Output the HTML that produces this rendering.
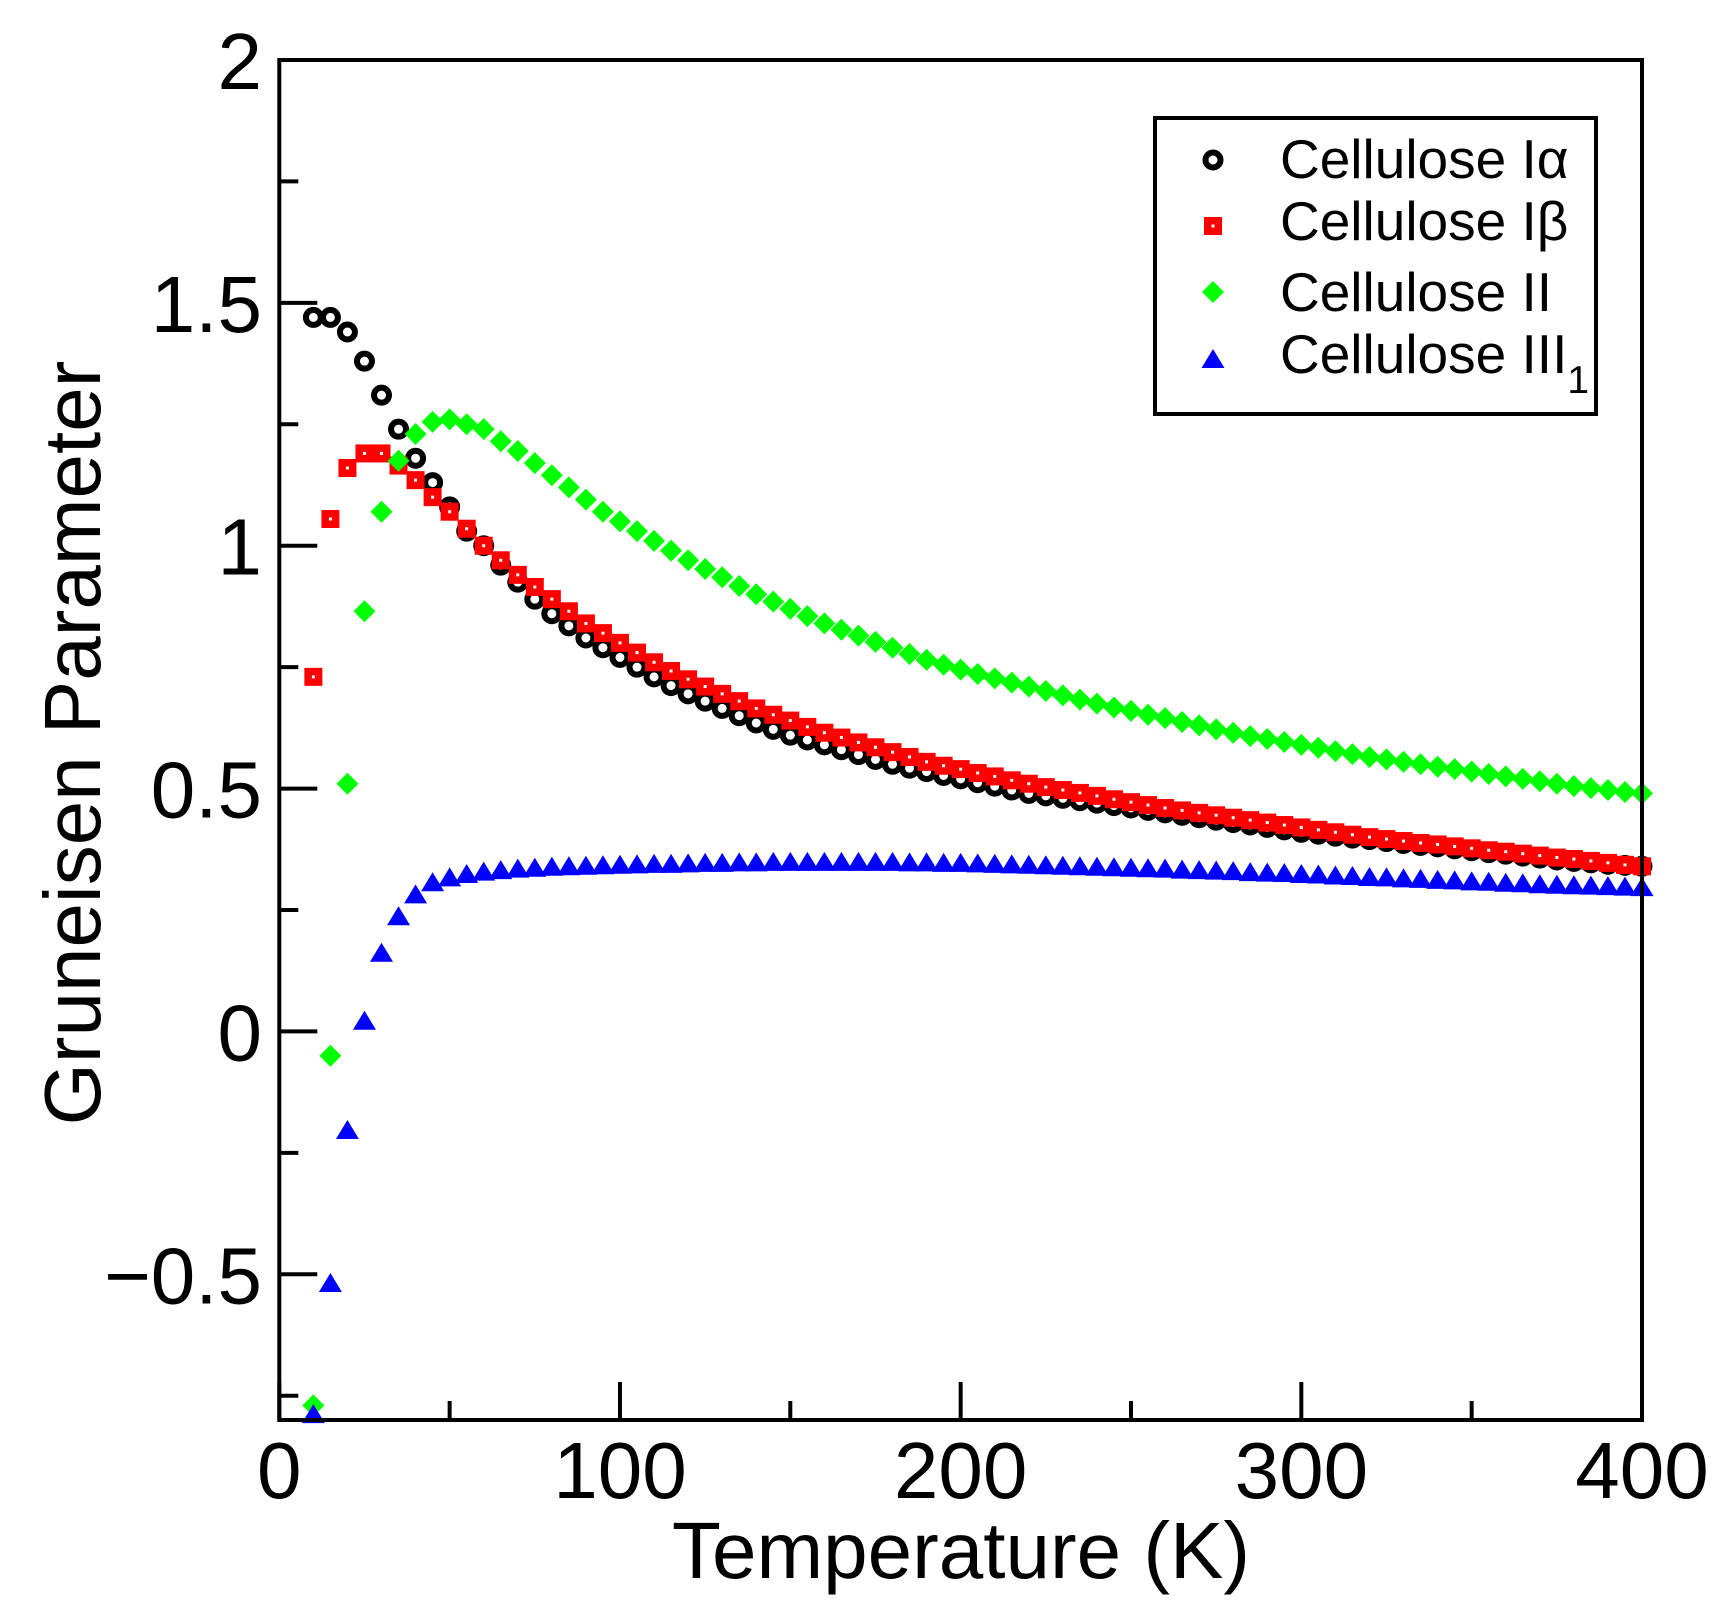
<!DOCTYPE html>
<html><head><meta charset="utf-8"><style>
html,body{margin:0;padding:0;background:#fff;}
svg{display:block;font-family:"Liberation Sans",sans-serif;}
</style></head><body>
<svg id="chart" width="1730" height="1622" viewBox="0 0 1730 1622" xmlns="http://www.w3.org/2000/svg">
<g id="marks"></g>
<g id="axes"></g>
<g>
<rect x="1155" y="118" width="441" height="296" fill="#fff" stroke="#000" stroke-width="4"/>
<g id="legendMarks"></g>
<text x="1280" y="178" font-size="55">Cellulose Iα</text>
<text x="1280" y="240" font-size="55">Cellulose Iβ</text>
<text x="1280" y="311" font-size="55">Cellulose II</text>
<text x="1280" y="373" font-size="55">Cellulose III<tspan font-size="39" dy="20">1</tspan></text>
</g>
<text x="961" y="1578" font-size="80" text-anchor="middle">Temperature (K)</text>
<text transform="translate(100,743) rotate(-90)" font-size="80" text-anchor="middle">Gruneisen Parameter</text>
</svg>
<script>
const temps = [];
for (let t = 10; t <= 400; t += 5) temps.push(t);
const ialpha = [1.47,1.47,1.44,1.38,1.31,1.24,1.18,1.13,1.08,1.03,1.0,0.96,0.925,0.89,0.86,0.835,0.81,0.79,0.77,0.75,0.73,0.712,0.695,0.68,0.665,0.65,0.635,0.622,0.61,0.6,0.59,0.58,0.57,0.56,0.55,0.542,0.535,0.527,0.52,0.512,0.505,0.497,0.49,0.485,0.48,0.475,0.47,0.465,0.46,0.455,0.45,0.445,0.44,0.435,0.43,0.425,0.42,0.415,0.41,0.406,0.402,0.398,0.395,0.391,0.387,0.383,0.38,0.376,0.372,0.368,0.365,0.361,0.357,0.353,0.35,0.347,0.344,0.342,0.34];
const ibeta = [0.73,1.055,1.16,1.19,1.19,1.165,1.135,1.10,1.07,1.035,1.0,0.97,0.94,0.915,0.89,0.865,0.84,0.82,0.80,0.78,0.76,0.742,0.725,0.71,0.695,0.68,0.665,0.652,0.64,0.627,0.615,0.605,0.595,0.585,0.575,0.565,0.555,0.547,0.54,0.532,0.525,0.517,0.51,0.503,0.497,0.491,0.485,0.478,0.472,0.466,0.46,0.455,0.45,0.445,0.44,0.435,0.43,0.425,0.42,0.415,0.41,0.405,0.40,0.396,0.392,0.388,0.385,0.381,0.377,0.373,0.37,0.366,0.362,0.358,0.355,0.351,0.347,0.343,0.34];
const cell2 = [-0.77,-0.05,0.51,0.865,1.07,1.175,1.23,1.255,1.26,1.25,1.24,1.215,1.195,1.17,1.145,1.12,1.095,1.07,1.05,1.03,1.01,0.99,0.97,0.952,0.935,0.917,0.90,0.885,0.87,0.855,0.84,0.827,0.815,0.802,0.79,0.777,0.765,0.755,0.745,0.736,0.727,0.718,0.71,0.701,0.692,0.683,0.675,0.667,0.66,0.652,0.645,0.637,0.63,0.622,0.615,0.608,0.602,0.596,0.59,0.584,0.577,0.571,0.565,0.56,0.555,0.55,0.545,0.54,0.535,0.53,0.525,0.52,0.515,0.51,0.505,0.501,0.497,0.493,0.49];
const cell3 = [-0.79,-0.52,-0.205,0.02,0.16,0.235,0.28,0.305,0.315,0.322,0.327,0.330,0.333,0.335,0.337,0.338,0.339,0.340,0.341,0.342,0.343,0.343,0.344,0.345,0.345,0.346,0.346,0.347,0.347,0.347,0.347,0.347,0.347,0.347,0.347,0.346,0.346,0.345,0.345,0.344,0.343,0.342,0.341,0.340,0.339,0.338,0.337,0.336,0.335,0.334,0.333,0.331,0.330,0.329,0.328,0.326,0.325,0.324,0.322,0.321,0.319,0.318,0.316,0.315,0.313,0.312,0.31,0.309,0.307,0.306,0.304,0.303,0.301,0.300,0.299,0.298,0.297,0.296,0.295];
const xTicks = [0,100,200,300,400];
const xTickLabels = ["0","100","200","300","400"];
const yTicks = [-0.5,0,0.5,1,1.5,2];
const yTickLabels = ["\u22120.5","0","0.5","1","1.5","2"];

const X0 = 279.3, X1 = 1642, Y0 = 60, Y1 = 1420;
const xMin = 0, xMax = 400, yMin = -0.8, yMax = 2;
function sx(v){ return X0 + (v - xMin) / (xMax - xMin) * (X1 - X0); }
function sy(v){ return Y1 - (v - yMin) / (yMax - yMin) * (Y1 - Y0); }
const NS = "http://www.w3.org/2000/svg";
function mk(tag, attrs, parent){ const e = document.createElementNS(NS, tag); for (const k in attrs) e.setAttribute(k, attrs[k]); parent.appendChild(e); return e; }

function circle(g, x, y){
  const e = mk("circle", {cx:x, cy:y, r:7.5, fill:"none", stroke:"#000", "stroke-width":6}, g);
  
  
}
function square(g, x, y){
  const e = mk("rect", {x:x-9, y:y-9, width:18, height:18, fill:"#f00"}, g);
  
  
  mk("rect", {x:x-1.5, y:y-1.5, width:3, height:3, fill:"#fff"}, g);
}
function diamond(g, x, y){
  const e = mk("polygon", {points:`${x},${y-11} ${x+11},${y} ${x},${y+11} ${x-11},${y}`, fill:"#0f0"}, g);
  
  
}
function triangle(g, x, y){
  const e = mk("polygon", {points:`${x},${y-11} ${x+11.5},${y+8} ${x-11.5},${y+8}`, fill:"#00f"}, g);
  
  
}

const marks = document.getElementById("marks");
const series = [[ialpha, circle],[ibeta, square],[cell2, diamond],[cell3, triangle]];
series.forEach(([vals, fn]) => {
  vals.forEach((v, i) => { if (v >= yMin - 0.05) fn(marks, sx(temps[i]), sy(v)); });
});

const axes = document.getElementById("axes");
const frame = mk("rect", {x:X0, y:Y0, width:X1-X0, height:Y1-Y0, fill:"none", stroke:"#000", "stroke-width":4}, axes);


for (let v = 0; v <= 400; v += 50) {
  const major = v % 100 === 0;
  const t = mk("line", {x1:sx(v), x2:sx(v), y1:Y1, y2:Y1-(major?38:19), stroke:"#000", "stroke-width":4}, axes);
  
  
}
for (let k = -3; k <= 8; k++) {
  const v = k * 0.25;
  if (v < yMin || v > yMax) continue;
  const major = k % 2 === 0;
  const t = mk("line", {x1:X0, x2:X0+(major?38:19), y1:sy(v), y2:sy(v), stroke:"#000", "stroke-width":4}, axes);
  
  
}
xTicks.forEach((v, i) => {
  const t = mk("text", {x:sx(v), y:1498, "font-size":80, "text-anchor":"middle"}, axes);
  t.textContent = xTickLabels[i];
  
  
});
yTicks.forEach((v, i) => {
  const t = mk("text", {x:262, y:sy(v)+29, "font-size":80, "text-anchor":"end"}, axes);
  t.textContent = yTickLabels[i];
  
  
});

const lg = document.getElementById("legendMarks");
circle(lg, 1213, 160);
square(lg, 1213, 226);
diamond(lg, 1213, 292);
triangle(lg, 1213, 360);
</script>
</body></html>
